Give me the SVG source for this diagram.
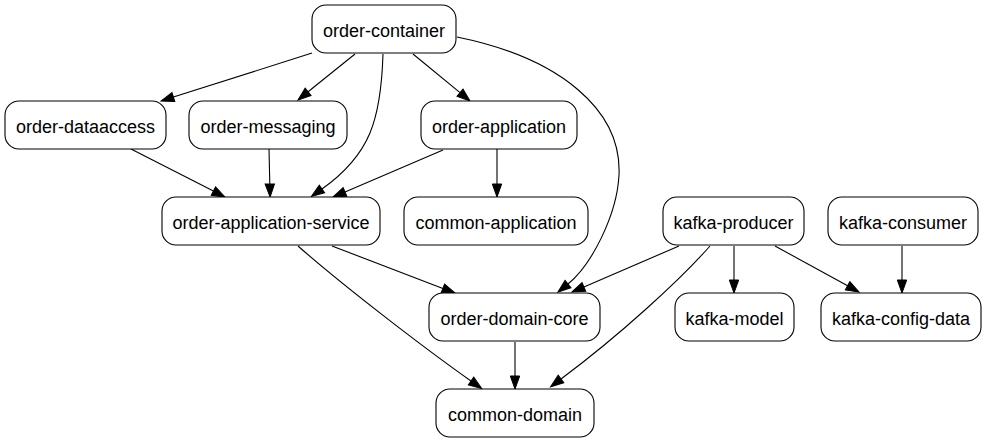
<svg xmlns="http://www.w3.org/2000/svg" width="987" height="443" viewBox="0 0 987 443">
<defs>
<style>
.n rect{fill:#fff;stroke:#000;stroke-width:1.1}
.n text{font-family:"Liberation Sans",Arial,Helvetica,sans-serif;font-size:18px;fill:#000;text-anchor:middle}
.e path{fill:none;stroke:#000;stroke-width:1.1;marker-end:url(#arr)}
</style>
<marker id="arr" viewBox="0 -5 14 10" refX="0" refY="0" markerWidth="14" markerHeight="10" markerUnits="userSpaceOnUse" orient="auto" overflow="visible">
<path d="M0,-4.7 L13,0 L0,4.7 z" fill="#000" stroke="#000" stroke-width="1"/>
</marker>
</defs>
<rect x="0" y="0" width="987" height="443" fill="#fff"/>
<g id="connectors" class="e">
<path d="M312,53 L173.4,97.1"/>
<path d="M355,54 L308.1,91.8"/>
<path d="M383,54 C381,120 370,155 322,189"/>
<path d="M413,54 L460,92.7"/>
<path d="M457,37 C560,58 622,110 619,175 C617,215 591.5,265 568,284"/>
<path d="M131,149 L213.4,191.1"/>
<path d="M269,149 L269.8,184"/>
<path d="M443,150 L345,191.9"/>
<path d="M497,149 L497,184"/>
<path d="M332,246 L442.9,288.4"/>
<path d="M298,246 C340,283 420,345 471,381"/>
<path d="M515,342 L515,376"/>
<path d="M679,246 L583.9,286.9"/>
<path d="M710,246 C680,280 620,335 561,379"/>
<path d="M734,246 L734,280"/>
<path d="M775,246 L847.6,285.8"/>
<path d="M902,246 L902,280"/>
</g>
<g id="order-container" class="n"><rect x="312" y="5" width="144" height="48" rx="14"/><text x="384" y="36.5">order-container</text></g>
<g id="order-dataaccess" class="n"><rect x="5" y="101" width="161" height="48" rx="14"/><text x="85.5" y="132.5">order-dataaccess</text></g>
<g id="order-messaging" class="n"><rect x="189" y="101" width="158" height="48" rx="14"/><text x="268" y="132.5">order-messaging</text></g>
<g id="order-application" class="n"><rect x="421" y="101" width="156" height="48" rx="14"/><text x="499" y="132.5">order-application</text></g>
<g id="order-application-service" class="n"><rect x="162" y="197" width="218" height="48" rx="14"/><text x="271" y="228.5">order-application-service</text></g>
<g id="common-application" class="n"><rect x="404" y="197" width="184" height="48" rx="14"/><text x="496" y="228.5">common-application</text></g>
<g id="kafka-producer" class="n"><rect x="663" y="197" width="141" height="48" rx="14"/><text x="733.5" y="228.5">kafka-producer</text></g>
<g id="kafka-consumer" class="n"><rect x="828" y="197" width="150" height="48" rx="14"/><text x="903" y="228.5">kafka-consumer</text></g>
<g id="order-domain-core" class="n"><rect x="429" y="293" width="171" height="48" rx="14"/><text x="514.5" y="324.5">order-domain-core</text></g>
<g id="kafka-model" class="n"><rect x="675" y="293" width="119" height="48" rx="14"/><text x="734.5" y="324.5">kafka-model</text></g>
<g id="kafka-config-data" class="n"><rect x="821" y="293" width="160" height="48" rx="14"/><text x="901" y="324.5">kafka-config-data</text></g>
<g id="common-domain" class="n"><rect x="436" y="389" width="158" height="48" rx="14"/><text x="515" y="420.5">common-domain</text></g>
</svg>
